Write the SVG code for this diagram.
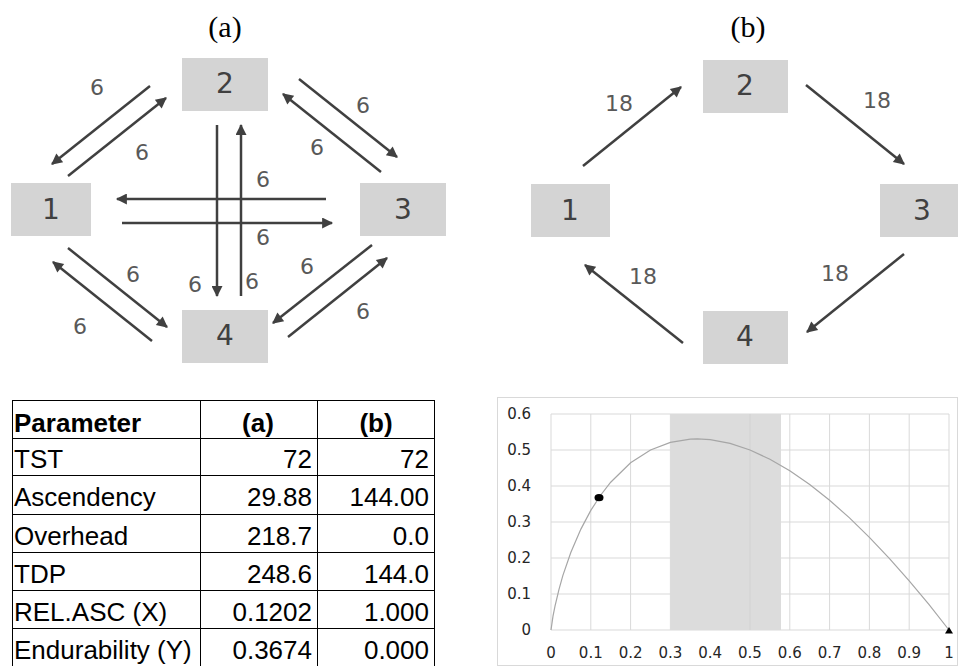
<svg xmlns="http://www.w3.org/2000/svg" width="958" height="666" viewBox="0 0 958 666">
<style>
.bg{fill:#ffffff}
.node{fill:#d4d4d4}
.nt{font-family:"DejaVu Sans",Verdana,sans-serif;font-size:28px;fill:#404040;text-anchor:middle}
.el{font-family:"DejaVu Sans",Verdana,sans-serif;font-size:22px;fill:#595959;text-anchor:middle}
.title{font-family:"Liberation Serif","Times New Roman",serif;font-size:30px;fill:#000;text-anchor:middle}
.edge{stroke:#404040;stroke-width:2.5;fill:none;marker-end:url(#ah)}
.tl{stroke:#000;stroke-width:1;fill:none}
.tt{font-family:"Liberation Sans",Arial,sans-serif;font-size:26px;fill:#000}
.th{font-weight:bold}
.r{text-anchor:end}
.c{text-anchor:middle}
.grid{stroke:#d9d9d9;stroke-width:1;fill:none}
.ax{font-family:"DejaVu Sans",Verdana,sans-serif;font-size:15px;fill:#262626}
</style>
<defs>
<marker id="ah" viewBox="0 0 10 10" refX="9" refY="5" markerWidth="5.4" markerHeight="4.4" orient="auto" markerUnits="strokeWidth">
<path d="M0,0 L10,5 L0,10 z" fill="#404040"/>
</marker>
</defs>
<rect class="bg" x="0" y="0" width="958" height="666"/>

<g id="panel-a">
<text class="title" x="225" y="37">(a)</text>
<g id="a-node1"><rect class="node" x="11" y="183" width="80" height="53"/><text class="nt" x="51" y="219">1</text></g>
<g id="a-node2"><rect class="node" x="182" y="58" width="86" height="53"/><text class="nt" x="225" y="93">2</text></g>
<g id="a-node3"><rect class="node" x="360" y="183" width="86" height="53"/><text class="nt" x="403" y="219">3</text></g>
<g id="a-node4"><rect class="node" x="182" y="310" width="86" height="53"/><text class="nt" x="225" y="345">4</text></g>
<g id="a-connectors">
<line class="edge" x1="68" y1="176" x2="166" y2="98"/>
<line class="edge" x1="150" y1="86" x2="52" y2="164"/>
<line class="edge" x1="299" y1="79" x2="397" y2="157"/>
<line class="edge" x1="381" y1="172" x2="283" y2="94"/>
<line class="edge" x1="326" y1="199" x2="117" y2="199"/>
<line class="edge" x1="122" y1="223" x2="332" y2="223"/>
<line class="edge" x1="217" y1="125" x2="217" y2="296"/>
<line class="edge" x1="241" y1="296" x2="241" y2="125"/>
<line class="edge" x1="68" y1="248" x2="167" y2="327"/>
<line class="edge" x1="152" y1="341" x2="53" y2="262"/>
<line class="edge" x1="372" y1="245" x2="273" y2="323"/>
<line class="edge" x1="288" y1="337" x2="387" y2="258"/>
</g>
<g id="a-labels">
<text class="el" x="97" y="95">6</text>
<text class="el" x="142" y="160">6</text>
<text class="el" x="363" y="113">6</text>
<text class="el" x="317" y="155">6</text>
<text class="el" x="263" y="187">6</text>
<text class="el" x="263" y="245">6</text>
<text class="el" x="133" y="282">6</text>
<text class="el" x="195" y="292">6</text>
<text class="el" x="252" y="289">6</text>
<text class="el" x="307" y="274">6</text>
<text class="el" x="80" y="334">6</text>
<text class="el" x="363" y="319">6</text>
</g>
</g>

<g id="panel-b">
<text class="title" x="748" y="37">(b)</text>
<g id="b-node1"><rect class="node" x="531" y="184" width="79" height="53"/><text class="nt" x="570" y="220">1</text></g>
<g id="b-node2"><rect class="node" x="703" y="60" width="85" height="53"/><text class="nt" x="745" y="95">2</text></g>
<g id="b-node3"><rect class="node" x="880" y="184" width="78" height="53"/><text class="nt" x="922" y="220">3</text></g>
<g id="b-node4"><rect class="node" x="703" y="311" width="85" height="53"/><text class="nt" x="745" y="346">4</text></g>
<g id="b-connectors">
<line class="edge" x1="583" y1="166" x2="681" y2="87"/>
<line class="edge" x1="806" y1="85" x2="904" y2="164"/>
<line class="edge" x1="904" y1="254" x2="807" y2="332"/>
<line class="edge" x1="683" y1="343" x2="585" y2="265"/>
</g>
<g id="b-labels">
<text class="el" x="619" y="111">18</text>
<text class="el" x="877" y="108">18</text>
<text class="el" x="835" y="281">18</text>
<text class="el" x="643" y="284">18</text>
</g>
</g>

<g id="table">
<line class="tl" x1="12" y1="400.5" x2="435" y2="400.5"/>
<line class="tl" x1="12" y1="438.5" x2="435" y2="438.5"/>
<line class="tl" x1="12" y1="475.5" x2="435" y2="475.5"/>
<line class="tl" x1="12" y1="514.5" x2="435" y2="514.5"/>
<line class="tl" x1="12" y1="552.5" x2="435" y2="552.5"/>
<line class="tl" x1="12" y1="590.5" x2="435" y2="590.5"/>
<line class="tl" x1="12" y1="628.5" x2="435" y2="628.5"/>
<line class="tl" x1="12.5" y1="400" x2="12.5" y2="666"/>
<line class="tl" x1="200.5" y1="400" x2="200.5" y2="666"/>
<line class="tl" x1="317.5" y1="400" x2="317.5" y2="666"/>
<line class="tl" x1="434.5" y1="400" x2="434.5" y2="666"/>
<text class="tt th" x="14" y="432">Parameter</text>
<text class="tt th c" x="258" y="432">(a)</text>
<text class="tt th c" x="376" y="432">(b)</text>
<text class="tt" x="14" y="468">TST</text>
<text class="tt r" x="312" y="468">72</text>
<text class="tt r" x="429" y="468">72</text>
<text class="tt" x="14" y="506">Ascendency</text>
<text class="tt r" x="312" y="506">29.88</text>
<text class="tt r" x="429" y="506">144.00</text>
<text class="tt" x="14" y="545">Overhead</text>
<text class="tt r" x="312" y="545">218.7</text>
<text class="tt r" x="429" y="545">0.0</text>
<text class="tt" x="14" y="583">TDP</text>
<text class="tt r" x="312" y="583">248.6</text>
<text class="tt r" x="429" y="583">144.0</text>
<text class="tt" x="14" y="621">REL.ASC (X)</text>
<text class="tt r" x="312" y="621">0.1202</text>
<text class="tt r" x="429" y="621">1.000</text>
<text class="tt" x="14" y="659">Endurability (Y)</text>
<text class="tt r" x="312" y="659">0.3674</text>
<text class="tt r" x="429" y="659">0.000</text>
</g>

<g id="chart">
<rect x="497.5" y="397.5" width="460" height="268" fill="#fff" stroke="#d9d9d9" stroke-width="1"/>
<g class="grid">
<line x1="551" y1="414" x2="949" y2="414"/>
<line x1="551" y1="450" x2="949" y2="450"/>
<line x1="551" y1="486" x2="949" y2="486"/>
<line x1="551" y1="522" x2="949" y2="522"/>
<line x1="551" y1="558" x2="949" y2="558"/>
<line x1="551" y1="594" x2="949" y2="594"/>
<line x1="551" y1="630" x2="949" y2="630"/>
<line x1="551" y1="414" x2="551" y2="630"/>
<line x1="590.8" y1="414" x2="590.8" y2="630"/>
<line x1="630.6" y1="414" x2="630.6" y2="630"/>
<line x1="670.4" y1="414" x2="670.4" y2="630"/>
<line x1="710.2" y1="414" x2="710.2" y2="630"/>
<line x1="750" y1="414" x2="750" y2="630"/>
<line x1="789.8" y1="414" x2="789.8" y2="630"/>
<line x1="829.6" y1="414" x2="829.6" y2="630"/>
<line x1="869.4" y1="414" x2="869.4" y2="630"/>
<line x1="909.2" y1="414" x2="909.2" y2="630"/>
<line x1="949" y1="414" x2="949" y2="630"/>
</g>
<rect x="670.4" y="414" width="110.6" height="216" fill="#dcdcdc"/>
<line x1="750" y1="414" x2="750" y2="630" stroke="#d2d2d2" stroke-width="1"/>
<path d="M551,630 L553,616.2 L555,606.1 L559,589.4 L562.9,575.4 L570.9,552.2 L580.9,529.1 L590.8,510.4 L600.8,495 L610.7,482.2 L630.6,462.8 L650.5,450 L670.4,442.4 L690.3,439.2 L697.4,438.9 L710.2,439.6 L730.1,443.4 L750,450 L769.9,459.2 L789.8,470.8 L809.7,484.6 L829.6,500.3 L849.5,517.9 L869.4,537.3 L889.3,558.3 L909.2,580.8 L929.1,604.7 L949,630" fill="none" stroke="#a6a6a6" stroke-width="1.2"/>
<ellipse cx="599" cy="497.7" rx="4.5" ry="3.6" fill="#000"/>
<path d="M949,627 L953,633.5 L945,633.5 z" fill="#000"/>
<g class="ax" text-anchor="end">
<text x="531" y="419">0.6</text>
<text x="531" y="455">0.5</text>
<text x="531" y="491">0.4</text>
<text x="531" y="527">0.3</text>
<text x="531" y="563">0.2</text>
<text x="531" y="599">0.1</text>
<text x="531" y="635">0</text>
</g>
<g class="ax" text-anchor="middle">
<text x="551" y="658">0</text>
<text x="590.8" y="658">0.1</text>
<text x="630.6" y="658">0.2</text>
<text x="670.4" y="658">0.3</text>
<text x="710.2" y="658">0.4</text>
<text x="750" y="658">0.5</text>
<text x="789.8" y="658">0.6</text>
<text x="829.6" y="658">0.7</text>
<text x="869.4" y="658">0.8</text>
<text x="909.2" y="658">0.9</text>
<text x="949" y="658">1</text>
</g>
</g>
</svg>
